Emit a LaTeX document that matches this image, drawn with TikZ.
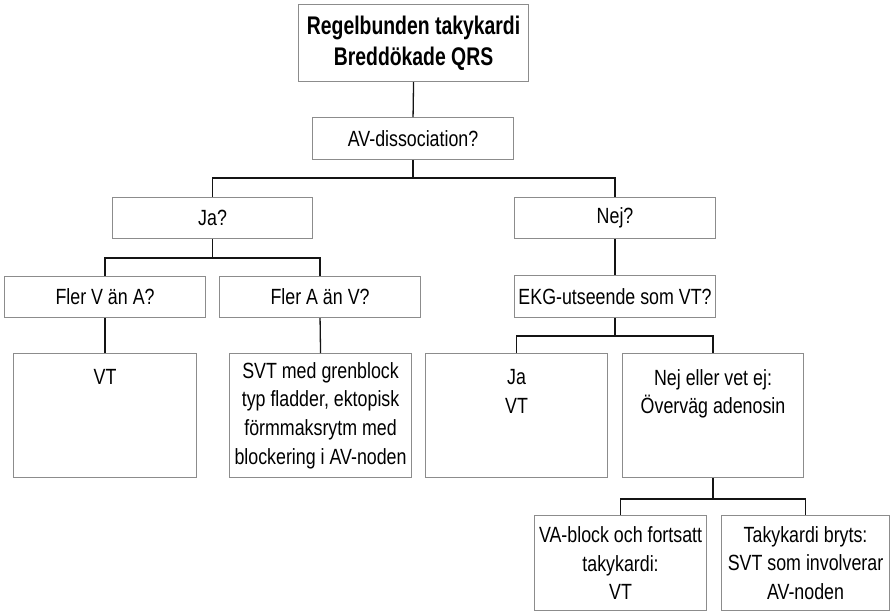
\documentclass[tikz,border=0pt]{standalone}
\usepackage{fontspec}
\setmainfont[FakeStretch=0.76]{Liberation Sans}
\newfontfamily\bodyfont[FakeStretch=0.81]{Liberation Sans}
\begin{document}
\definecolor{boxline}{RGB}{140,140,140}
\definecolor{wire}{RGB}{20,20,20}
\begin{tikzpicture}[x=1pt,y=-1pt,
  box/.style={draw=boxline,line width=1.1pt,fill=white,anchor=north west,inner sep=0pt},
  txt/.style={inner sep=0pt,align=center,text=black,font=\bodyfont\fontsize{22}{28.7}\selectfont},
  ttl/.style={inner sep=0pt,align=center,text=black,font=\fontsize{25.5}{31}\selectfont\bfseries},
  wireline/.style={draw=wire,line width=1.3pt}]
\useasboundingbox (0,0) rectangle (890,611);

% level 0 and 1
\node[box,minimum width=230,minimum height=77] (top) at (298,4) {};
\node[ttl] at (top.center) {Regelbunden takykardi\\Breddökade QRS};
\node[box,minimum width=201,minimum height=42] (av) at (312,117) {};
\node[txt] at (av.center) {AV-dissociation?};

% level 2
\node[box,minimum width=200,minimum height=41] (ja) at (112,197) {};
\node[txt] at (ja.center) {Ja?};
\node[box,minimum width=201,minimum height=41] (nej) at (514,197) {};
\node[txt] at (nej.center) {Nej?};

% level 3
\node[box,minimum width=201,minimum height=41] (flerv) at (4,276) {};
\node[txt] at (flerv.center) {Fler V än A?};
\node[box,minimum width=201,minimum height=41] (flera) at (219,276) {};
\node[txt] at (flera.center) {Fler A än V?};
\node[box,minimum width=201,minimum height=42] (ekg) at (514,275) {};
\node[txt] at (ekg.center) {EKG-utseende som VT?};

% level 4
\node[box,minimum width=183,minimum height=124] (vt) at (13,353) {};
\node[txt,anchor=north] at ([yshift=-16]vt.north) {VT};
\node[box,minimum width=182,minimum height=124] (svt) at (229,353) {};
\node[txt] at (svt.center) {SVT med grenblock\\typ fladder, ektopisk\\förmmaksrytm med\\blockering i AV-noden};
\node[box,minimum width=182,minimum height=124] (javt) at (425,353) {};
\node[txt,anchor=north] at ([yshift=-16]javt.north) {Ja\\VT};
\node[box,minimum width=181,minimum height=124] (nejel) at (622,353) {};
\node[txt,anchor=north] at ([yshift=-16]nejel.north) {Nej eller vet ej:\\Överväg adenosin};

% level 5
\node[box,minimum width=172,minimum height=95] (vab) at (534,515) {};
\node[txt] at (vab.center) {VA-block och fortsatt\\takykardi:\\VT};
\node[box,minimum width=168,minimum height=95] (tak) at (721,515) {};
\node[txt] at (tak.center) {Takykardi bryts:\\SVT som involverar\\AV-noden};

% connectors
\draw[wireline] (top.south) -- (av.north);
\draw[wireline] (av.south) -- ++(0,18) -| (ja.north);
\draw[wireline] (av.south) ++(0,18) -| (nej.north);
\draw[wireline] (ja.south) -- ++(0,19) -| (flerv.north);
\draw[wireline] (ja.south) ++(0,19) -| (flera.north);
\draw[wireline] (nej.south) -- (ekg.north);
\draw[wireline] (flerv.south) -- (vt.north);
\draw[wireline] (flera.south) -- (svt.north);
\draw[wireline] (ekg.south) -- ++(0,18) -| (javt.north);
\draw[wireline] (ekg.south) ++(0,18) -| (nejel.north);
\draw[wireline] (nejel.south) -- ++(0,21) -| (vab.north);
\draw[wireline] (nejel.south) ++(0,21) -| (tak.north);
\end{tikzpicture}
\end{document}
